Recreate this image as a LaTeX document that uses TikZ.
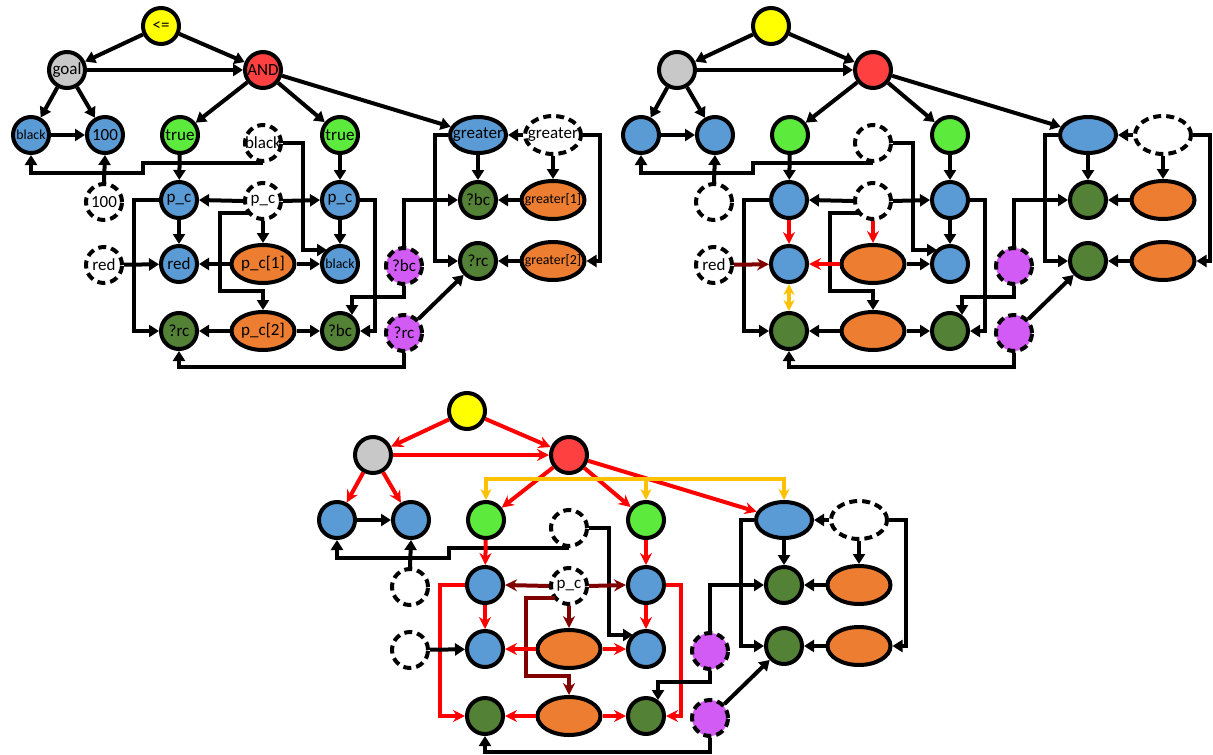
\documentclass[tikz,border=0pt]{standalone}
\usepackage{fontspec}
\setmainfont{Carlito}
\usetikzlibrary{arrows.meta,shapes.geometric,calc}
\definecolor{cyel}{HTML}{FFFF00}
\definecolor{cgry}{HTML}{C8C8C8}
\definecolor{cred}{HTML}{FF4040}
\definecolor{cblu}{HTML}{5B9BD5}
\definecolor{cgrn}{HTML}{5CEB3C}
\definecolor{cdgr}{HTML}{538135}
\definecolor{corg}{HTML}{ED7D31}
\definecolor{cpur}{HTML}{D35BF5}
\definecolor{cmar}{HTML}{800000}
\definecolor{cgold}{HTML}{FFC000}
\def\labmode{1}
\newcommand\lab[1]{\ifnum\labmode=1 #1\fi}
\newcommand\labred[1]{\ifnum\labmode=3 \else #1\fi}
\newcommand\labpc[1]{\ifnum\labmode=2 \else #1\fi}
\newcommand\T[1]{\makebox[0pt]{#1}}
\tikzset{
  nd/.style={circle, draw=black, line width=4pt, minimum size=36pt, inner sep=0pt,
    font=\fontsize{17}{19}\selectfont},
  el/.style={ellipse, draw=black, line width=4pt, minimum width=63pt, minimum height=38pt,
    inner sep=0pt, font=\fontsize{17}{19}\selectfont},
  sm/.style={font=\fontsize{13.8}{15}\selectfont},
  dsh/.style={dash pattern=on 8pt off 5pt},
  ek/.style={line width=4pt, draw=black, -{Triangle[length=10pt,width=12pt]}},
  er/.style={line width=4pt, draw=red, -{Stealth[length=12pt,width=12pt,inset=4pt]}},
  emr/.style={line width=4pt, draw=cmar, -{Stealth[length=12pt,width=12pt,inset=4pt]}},
  eg/.style={line width=3.5pt, draw=cgold, -{Stealth[length=11pt,width=11pt,inset=3.5pt]}},
  egg/.style={line width=3.5pt, draw=cgold, {Stealth[length=11pt,width=11pt,inset=3.5pt]}-{Stealth[length=11pt,width=11pt,inset=3.5pt]}},
  Etop/.style={ek}, Etru/.style={ek}, Epcrd/.style={ek}, Epcbk/.style={ek},
  Eporr/.style={ek}, Epobk/.style={ek}, Eptwo/.style={ek}, Eroute/.style={ek},
  Eside/.style={ek}, Epcpo/.style={ek}, Epcpt/.style={ek}, Erdd/.style={ek},
}
\newcommand\drawpanel{%
  \node[nd,fill=cyel] (le) at (161,26) {\T{\lab{<=}}};
  \node[nd,fill=cgry] (goal) at (67,70) {\T{\lab{goal}}};
  \node[nd,fill=cred] (and) at (263,70) {\T{\lab{AND}}};
  \node[nd,fill=cblu,sm] (bk) at (31,135) {\T{\lab{black}}};
  \node[nd,fill=cblu] (hd) at (105,135) {\T{\lab{100}}};
  \node[nd,fill=cgrn] (t1) at (180,135) {\T{\lab{true}}};
  \node[nd,dsh,fill=white] (bkd) at (263,143) {\T{\lab{black}}};
  \node[nd,fill=cgrn] (t2) at (340,135) {\T{\lab{true}}};
  \node[el,fill=cblu,minimum width=56pt,minimum height=36pt] (gr) at (478,135) {\T{\lab{greater}}};
  \node[el,dsh,fill=white,minimum width=56pt,minimum height=38pt] (grd) at (553,135) {\T{\lab{greater}}};
  \node[nd,dsh,fill=white] (hdd) at (104,202) {\T{\lab{100}}};
  \node[nd,fill=cblu] (pc1) at (179,200) {\T{\lab{p\_c}}};
  \node[nd,dsh,fill=white] (pcd) at (263,201) {\T{\labpc{p\_c}}};
  \node[nd,fill=cblu] (pc2) at (340,200) {\T{\lab{p\_c}}};
  \node[nd,fill=cdgr] (bc1) at (478,200) {\T{\lab{?bc}}};
  \node[el,fill=corg,sm] (g1) at (553,200) {\T{\lab{greater[1]}}};
  \node[nd,dsh,fill=white] (rdd) at (104,265) {\T{\labred{red}}};
  \node[nd,fill=cblu] (rd) at (179,264) {\T{\lab{red}}};
  \node[el,fill=corg] (p1) at (263,264) {\T{\lab{p\_c[1]}}};
  \node[nd,fill=cblu,sm] (bk2) at (340,264) {\T{\lab{black}}};
  \node[nd,dsh,fill=cpur] (bcp) at (404,266) {\T{\lab{?bc}}};
  \node[nd,fill=cdgr] (rc1) at (478,261) {\T{\lab{?rc}}};
  \node[el,fill=corg,sm] (g2) at (553,261) {\T{\lab{greater[2]}}};
  \node[nd,fill=cdgr] (rc2) at (179,331) {\T{\lab{?rc}}};
  \node[el,fill=corg] (p2) at (263,331) {\T{\lab{p\_c[2]}}};
  \node[nd,fill=cdgr] (bc2) at (340,331) {\T{\lab{?bc}}};
  \node[nd,dsh,fill=cpur] (rcp) at (404,333) {\T{\lab{?rc}}};
  % edges
  \draw[Etop] (le) -- (goal);
  \draw[Etop] (le) -- (and);
  \draw[Etop] (goal) -- (and);
  \draw[Etop] (goal) -- (bk);
  \draw[Etop] (goal) -- (hd);
  \draw[ek] (bk) -- (hd);
  \draw[Etop] (and) -- (t1);
  \draw[Etop] (and) -- (t2);
  \draw[Etop] (and) -- (gr);
  \draw[ek] (bkd.south) -- ++(-120,0) -- ++(0,10) -| (bk.south);
  \draw[ek] (bkd.east) -| ($(bk2.center)+(-37,-14)$) -- ($(bk2.center)+(-13,-14)$);
  \draw[ek] (hdd.north) -- (hd.south);
  \draw[Etru] (t1) -- (pc1);
  \draw[Etru] (t2) -- (pc2);
  \draw[Eside] (pcd.west) -- (pc1.east);
  \draw[Eside] (pcd.east) -- (pc2.west);
  \draw[Epcpo] (pcd) -- (p1);
  \draw[Epcpt] ($(pcd.center)+(-14,12)$) -- ++(-29,0) |- ($(p2.north)+(0,-19)$) -- (p2.north);
  \draw[Eroute] (pc1.west) -- ++(-25,0) |- (rc2.west);
  \draw[Epcrd] (pc1) -- (rd);
  \draw[Erdd] (rdd) -- (rd);
  \draw[Eporr] (p1) -- (rd);
  \draw[Epobk] (p1) -- (bk2);
  \draw[Epcbk] (pc2) -- (bk2);
  \draw[Eroute] (pc2.east) -- ++(15,0) |- (bc2.east);
  \draw[Eptwo] (p2) -- (rc2);
  \draw[Eptwo] (p2) -- (bc2);
  \draw[ek] (bcp.south) -- ++(0,11) -| ($(bc2.center)+(12,-16)$);
  \draw[ek] (rcp.south) -- ++(0,14) -| (rc2.south);
  \draw[ek] (rcp) -- (rc1);
  \draw[ek] (bcp.north) |- (bc1.west);
  \draw[ek] (gr.west) -- ++(-13,0) |- (rc1.west);
  \draw[ek] (grd.east) -- ++(17,0) |- (g2.east);
  \draw[ek] (grd) -- (gr);
  \draw[ek] (grd) -- (g1);
  \draw[ek] (gr) -- (bc1);
  \draw[ek] (g1) -- (bc1);
  \draw[ek] (g2) -- (rc1);
}
\begin{document}
\begin{tikzpicture}[x=1pt,y=-1pt]
  \useasboundingbox (0,0) rectangle (1213,755);
  \begin{scope}[name prefix=A-]
    \def\labmode{1}
    \drawpanel
  \end{scope}
  \begin{scope}[shift={(610,0)}, name prefix=B-,
      Epcrd/.style={er}, Epcpo/.style={er}, Eporr/.style={er}, Erdd/.style={emr}]
    \def\labmode{2}
    \drawpanel
    \draw[egg] (rd) -- (rc2);
  \end{scope}
  \begin{scope}[shift={(306,385)}, name prefix=C-,
      Etop/.style={er}, Etru/.style={er}, Epcrd/.style={er}, Epcbk/.style={er},
      Eporr/.style={er}, Epobk/.style={er}, Eptwo/.style={er}, Eroute/.style={er},
      Eside/.style={emr}, Epcpo/.style={emr}, Epcpt/.style={emr}]
    \def\labmode{3}
    \drawpanel
    \coordinate (bus) at (0,94);
    \draw[egg] (t1.north) |- (gr.north|-bus) -- (gr.north);
    \draw[eg] (t2.north|-bus) -- (t2.north);
  \end{scope}
\end{tikzpicture}
\end{document}
